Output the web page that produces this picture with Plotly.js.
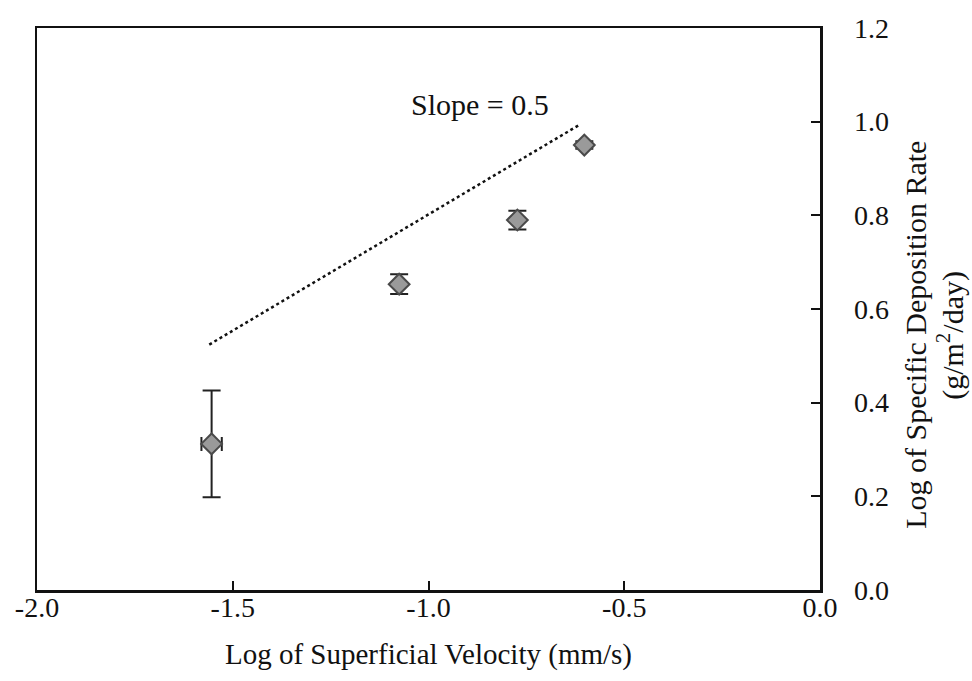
<!DOCTYPE html>
<html>
<head>
<meta charset="utf-8">
<script src="https://cdn.plot.ly/plotly-3.0.1.min.js"></script>
<style>html,body{margin:0;padding:0;background:#fff;}</style>
</head>
<body>
<div id="chart" style="width:972px;height:681px;"></div>
<script>
// Data
const logVelocity = [-1.554, -1.075, -0.773, -0.602];
const logDeposition = [0.312, 0.653, 0.790, 0.950];
const depositionErr = [0.114, 0.021, 0.020, 0.008];
const velocityErr = [0.026, 0.0, 0.0, 0.0];
const slopeLineX = [-1.56, -0.615];
const slopeLineY = [0.524, 0.993];
const slopeLabel = "Slope = 0.5";
const xTickVals = [-2.0, -1.5, -1.0, -0.5, 0.0];
const xTickText = ["-2.0", "-1.5", "-1.0", "-0.5", "0.0"];
const yTickVals = [0.0, 0.2, 0.4, 0.6, 0.8, 1.0, 1.2];
const yTickText = ["0.0", "0.2", "0.4", "0.6", "0.8", "1.0", "1.2"];
const xTitle = "Log of Superficial Velocity (mm/s)";
const yTitleLine1 = "Log of Specific Deposition Rate";
const yTitleLine2 = "(g/m<sup>2</sup>/day)";

const fam = "'Liberation Serif', serif";
const tickFont = {family: fam, size: 28, color: "#111"};
const titleFont = {family: fam, size: 29, color: "#111"};
const yTitleFont = {family: fam, size: 30, color: "#111"};

const traces = [
  {
    x: slopeLineX, y: slopeLineY, mode: "lines", type: "scatter",
    line: {color: "#111", width: 2.5, dash: "dot"}, hoverinfo: "skip", showlegend: false
  },
  {
    x: logVelocity, y: logDeposition, mode: "markers", type: "scatter",
    marker: {symbol: "diamond", size: 16, color: "#9a9a9a", line: {color: "#4a4a4a", width: 2}},
    error_y: {type: "data", array: depositionErr, visible: true, color: "#222", thickness: 2, width: 9},
    error_x: {type: "data", array: velocityErr, visible: true, color: "#222", thickness: 2, width: 7},
    showlegend: false
  }
];

const layout = {
  width: 972, height: 681,
  margin: {l: 37, r: 152, t: 28, b: 91},
  paper_bgcolor: "#fff", plot_bgcolor: "#fff",
  font: tickFont,
  showlegend: false,
  xaxis: {
    range: [-2.0, 0.0], tickmode: "array", tickvals: xTickVals, ticktext: xTickText,
    ticks: "inside", ticklen: 9, tickwidth: 2, tickcolor: "#111",
    showline: true, linecolor: "#111", linewidth: 2.5, mirror: true,
    showgrid: false, zeroline: false,
    tickfont: tickFont, ticklabelstandoff: -9,
    title: {text: xTitle, font: titleFont, standoff: 22}
  },
  yaxis: {
    side: "right",
    range: [0.0, 1.2], tickmode: "array", tickvals: yTickVals, ticktext: yTickText,
    ticks: "inside", ticklen: 9, tickwidth: 2, tickcolor: "#111",
    showline: true, linecolor: "#111", linewidth: 2.5, mirror: true,
    showgrid: false, zeroline: false,
    tickfont: tickFont, ticklabelstandoff: 26
  },
  annotations: [
    {x: -0.868, y: 1.036, xref: "x", yref: "y", text: slopeLabel, showarrow: false,
     font: {family: fam, size: 30, color: "#111"}},
    {x: 1.1226, y: 0.454, xref: "paper", yref: "paper", text: yTitleLine1, showarrow: false,
     textangle: -90, font: yTitleFont, xanchor: "center", yanchor: "middle"},
    {x: 1.1673, y: 0.454, xref: "paper", yref: "paper", text: yTitleLine2, showarrow: false,
     textangle: -90, font: yTitleFont, xanchor: "center", yanchor: "middle"}
  ]
};

Plotly.newPlot("chart", traces, layout, {displayModeBar: false, staticPlot: true});
</script>
</body>
</html>
